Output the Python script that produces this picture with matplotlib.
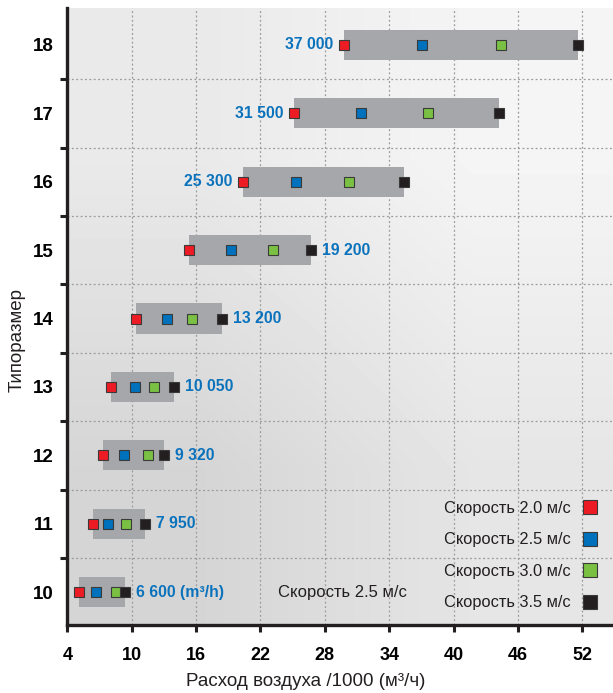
import numpy as np
import matplotlib
matplotlib.use('Agg')
import matplotlib.pyplot as plt

plt.rcParams['font.family'] = ['Liberation Sans', 'DejaVu Sans']

# Data: air flow /1000 (m3/h) per size at four air speeds
sizes = [10, 11, 12, 13, 14, 15, 16, 17, 18]
flow_20 = [5.07, 6.42, 7.33, 8.04, 10.43, 15.34, 20.34, 25.15, 29.76]
flow_25 = [6.65, 7.76, 9.28, 10.34, 13.29, 19.28, 25.28, 31.40, 37.05]
flow_30 = [8.51, 9.50, 11.49, 12.08, 15.62, 23.14, 30.25, 37.58, 44.39]
flow_35 = [9.35, 11.24, 12.98, 13.94, 18.42, 26.74, 35.38, 44.23, 51.60]
flow_labels = ['6 600 (m³/h)', '7 950', '9 320', '10 050', '13 200',
               '19 200', '25 300', '31 500', '37 000']
label_side = ['r', 'r', 'r', 'r', 'r', 'r', 'l', 'l', 'l']
speed_names = ['Скорость 2.0 м/с', 'Скорость 2.5 м/с',
               'Скорость 3.0 м/с', 'Скорость 3.5 м/с']
speed_colors = ['#ed1c24', '#0071bc', '#7ac143', '#231f20']
x_ticks = [4, 10, 16, 22, 28, 34, 40, 46, 52]

fig = plt.figure(figsize=(6.13, 6.93), dpi=100)
ax = fig.add_axes([0.1098, 0.0981, 0.8902, 0.8904])

# gradient background
grad = np.array([[0.915, 0.960], [0.835, 0.900]])
ax.imshow(grad, cmap='gray', vmin=0, vmax=1, interpolation='bilinear',
          extent=[0, 1, 0, 1], transform=ax.transAxes, aspect='auto', zorder=0)

ax.set_xlim(4, 54.86)
ax.set_ylim(9.52, 18.54)

# bars from 2.0 to 3.5 m/s
for s, a, b in zip(sizes, flow_20, flow_35):
    ax.barh(s, b - a, left=a, height=0.44, color='#a6a7aa', zorder=2)

all_flows = [flow_20, flow_25, flow_30, flow_35]
for vals, name, col in zip(all_flows, speed_names, speed_colors):
    ax.plot(vals, sizes, ls='none', marker='s', ms=6.5, mfc=col,
            mec='#3a3a3a', mew=0.8, label=name, zorder=4)

for s, a, b, txt, side in zip(sizes, flow_20, flow_35, flow_labels, label_side):
    if side == 'r':
        ax.annotate(txt, (b, s), xytext=(8, 0), textcoords='offset points',
                    ha='left', va='center', color='#0a72bc', fontsize=11.3,
                    fontweight='bold', zorder=5)
    else:
        ax.annotate(txt, (a, s), xytext=(-7.5, 0), textcoords='offset points',
                    ha='right', va='center', color='#0a72bc', fontsize=11.3,
                    fontweight='bold', zorder=5)

ax.text(23.6, 10.0, 'Скорость 2.5 м/с', ha='left', va='center',
        fontsize=12, color='#231f20', zorder=5)

leg = ax.legend(loc='lower right', bbox_to_anchor=(0.997, 0.0),
                markerfirst=False, frameon=False, fontsize=11.8,
                labelspacing=1.0, handlelength=0.8, handletextpad=0.8)
for h in leg.legend_handles:
    h.set_markersize(10)
for t in leg.get_texts():
    t.set_color('#231f20')

# ticks and grid
ax.set_xticks(x_ticks)
ax.set_xticklabels([str(v) for v in x_ticks], fontsize=13, fontweight='bold')
ax.set_yticks(sizes)
ax.set_yticklabels([str(v) for v in sizes], fontsize=13.5, fontweight='bold')
ax.set_yticks([s + 0.5 for s in sizes[:-1]], minor=True)
ax.tick_params(axis='y', which='major', length=0, pad=10)
ax.tick_params(axis='y', which='minor', length=5, width=2.2, color='#231f20')
ax.tick_params(axis='x', which='major', length=5, width=2.2, pad=11,
               color='#231f20')
ax.grid(axis='x', which='major', ls=(0, (1.5, 2)), color='#9a9a9a', lw=0.9,
        zorder=1)
ax.grid(axis='y', which='minor', ls=(0, (1.5, 2)), color='#9a9a9a', lw=0.9,
        zorder=1)
ax.set_axisbelow(True)

for sp in ['top', 'right']:
    ax.spines[sp].set_visible(False)
for sp in ['left', 'bottom']:
    ax.spines[sp].set_linewidth(2.4)
    ax.spines[sp].set_color('#231f20')

ax.set_xlabel('Расход воздуха /1000 (м³/ч)', fontsize=13.5, color='#231f20')
ax.xaxis.set_label_coords(0.436, -0.077)
ax.set_ylabel('Типоразмер', fontsize=13.5, color='#231f20')
ax.yaxis.set_label_coords(-0.076, 0.462)

fig.savefig('out.png', dpi=100)
